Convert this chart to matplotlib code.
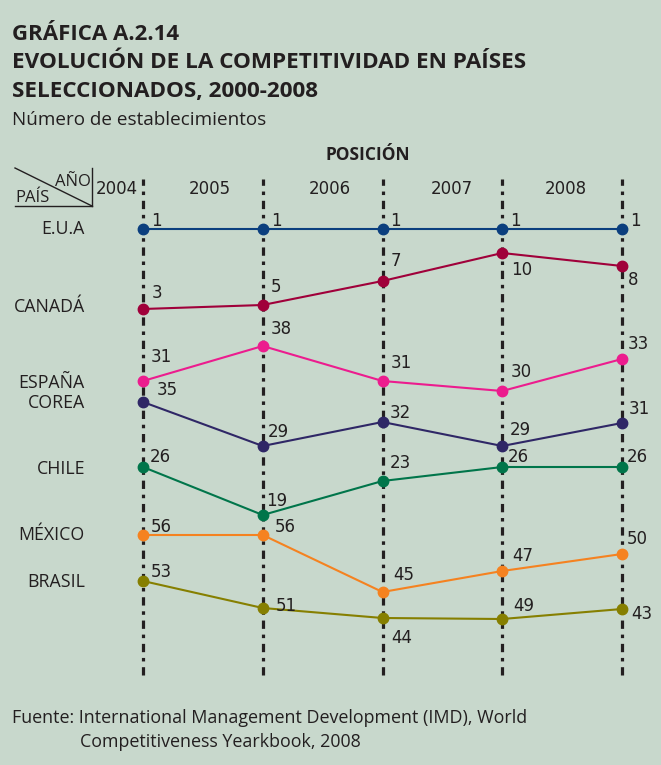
import matplotlib
matplotlib.use("Agg")
import matplotlib.pyplot as plt
from matplotlib import font_manager

BG = "#c8d8cc"
INK = "#231f20"

years = [2004, 2005, 2006, 2007, 2008]
year_labels = ["2004", "2005", "2006", "2007", "2008"]

countries = ["E.U.A", "CANADÁ", "ESPAÑA", "COREA", "CHILE", "MÉXICO", "BRASIL"]

# competitiveness rank shown next to each point
ranks = {
    "E.U.A": [1, 1, 1, 1, 1],
    "CANADÁ": [3, 5, 7, 10, 8],
    "ESPAÑA": [31, 38, 31, 30, 33],
    "COREA": [35, 29, 32, 29, 31],
    "CHILE": [26, 19, 23, 26, 26],
    "MÉXICO": [56, 56, 45, 47, 50],
    "BRASIL": [53, 51, 44, 49, 43],
}

# vertical position of each point on the (non-linear) chart scale,
# read off the picture, measured upward from the foot of the guides
heights = {
    "E.U.A": [446, 446, 446, 446, 446],
    "CANADÁ": [366, 370, 394, 422, 409],
    "ESPAÑA": [294, 329, 294, 284, 316],
    "COREA": [273, 229, 253, 229, 252],
    "CHILE": [208, 160, 194, 208, 208],
    "MÉXICO": [140, 140, 83, 104, 121],
    "BRASIL": [94, 67, 57, 56, 66],
}

# height of the country name on the left
name_heights = [446, 368, 292, 272, 206, 140, 93]

colors = {
    "E.U.A": "#0b3f7e",
    "CANADÁ": "#a0003a",
    "ESPAÑA": "#ec1c8e",
    "COREA": "#2f2766",
    "CHILE": "#00754a",
    "MÉXICO": "#f58220",
    "BRASIL": "#867f00",
}

# label offsets in pixels (dx, dy), dy positive = up
label_offsets = {
    "E.U.A": [(8, 8)] * 5,
    "CANADÁ": [(9, 16), (8, 18), (8, 20), (9, -17), (6, -14)],
    "ESPAÑA": [(8, 24), (8, 17), (8, 18), (8, 19), (6, 15)],
    "COREA": [(14, 12), (5, 14), (7, 9), (8, 16), (7, 14)],
    "CHILE": [(7, 10), (3, 14), (7, 18), (6, 10), (5, 10)],
    "MÉXICO": [(8, 8), (12, 8), (11, 17), (10, 15), (5, 15)],
    "BRASIL": [(8, 9), (13, 2), (9, -20), (11, 13), (9, -5)],
}


def pick(*names):
    have = {f.name for f in font_manager.fontManager.ttflist}
    for n in names:
        if n in have:
            return n
    return "DejaVu Sans"


cond = pick("Liberation Sans Narrow", "Open Sans")
plain = "DejaVu Sans"

W, H = 661, 765
fig = plt.figure(figsize=(W / 100, H / 100), dpi=100, facecolor=BG)
ax = fig.add_axes([0, 0, 1, 1])
ax.set_facecolor(BG)
step = (622 - 143) / 4
ax.set_xlim(2004 - 143 / step, 2004 + (W - 143) / step)
ax.set_ylim(675 - H, 675)
ax.axis("off")

# dash-dot guides at each year
for yr in years:
    ax.plot([yr, yr], [0, 496], color=INK, lw=2.3,
            linestyle=(0, (2.6, 1.8, 1.1, 1.8)), zorder=1)

for c in countries:
    ax.plot(years, heights[c], color=colors[c], lw=1.5, zorder=2)
    ax.plot(years, heights[c], "o", color=colors[c], ms=7.5, zorder=3)
    for yr, h, r, (dx, dy) in zip(years, heights[c], ranks[c], label_offsets[c]):
        ax.annotate(str(r), (yr, h), xytext=(dx, dy), textcoords="offset pixels",
                    ha="left", va="center", fontsize=12, color=INK,
                    family=plain, zorder=4)

for c, h in zip(countries, name_heights):
    ax.text(2004 - 58 / step, h, c, ha="right", va="center", fontsize=12.8,
            color=INK, family=cond)

# year headers
year_x = [117, 210, 330, 452, 566]
for lab, px in zip(year_labels, year_x):
    ax.text(2004 + (px - 143) / step, 675 - 189, lab, ha="center", va="center",
            fontsize=12, color=INK, family=plain)


# corner box PAÍS / AÑO
def px2d(x, y):
    return 2004 + (x - 143) / step, 675 - y


for (x0, y0), (x1, y1) in [((15, 168), (92, 206)), ((92, 168), (92, 206)),
                           ((15, 206), (92, 206))]:
    a, b = px2d(x0, y0)
    c2, d = px2d(x1, y1)
    ax.plot([a, c2], [b, d], color=INK, lw=1.0)
tx, ty = px2d(73, 182)
ax.text(tx, ty, "AÑO", ha="center", va="center", fontsize=12, color=INK, family=cond)
tx, ty = px2d(33, 198)
ax.text(tx, ty, "PAÍS", ha="center", va="center", fontsize=12, color=INK, family=cond)

# titles
fig.text(12 / W, 1 - 34 / H, "GRÁFICA A.2.14", fontsize=16, fontweight="bold",
         color=INK, family=cond, va="center")
fig.text(12 / W, 1 - 62 / H, "EVOLUCIÓN DE LA COMPETITIVIDAD EN PAÍSES",
         fontsize=16.2, fontweight="bold", color=INK, family=cond, va="center")
fig.text(12 / W, 1 - 91 / H, "SELECCIONADOS, 2000-2008", fontsize=16.2,
         fontweight="bold", color=INK, family=cond, va="center")
fig.text(12 / W, 1 - 120 / H, "Número de establecimientos", fontsize=13.6,
         color=INK, family=cond, va="center")
fig.text(368 / W, 1 - 155 / H, "POSICIÓN", fontsize=12.5, fontweight="bold",
         color=INK, family=cond, ha="center", va="center")

fig.text(12 / W, 1 - 718 / H,
         "Fuente: International Management Development (IMD), World",
         fontsize=12.9, color=INK, family=cond, va="center")
fig.text(80 / W, 1 - 742 / H, "Competitiveness Yearkbook, 2008",
         fontsize=12.9, color=INK, family=cond, va="center")

fig.savefig("out.png", dpi=100, facecolor=BG)
